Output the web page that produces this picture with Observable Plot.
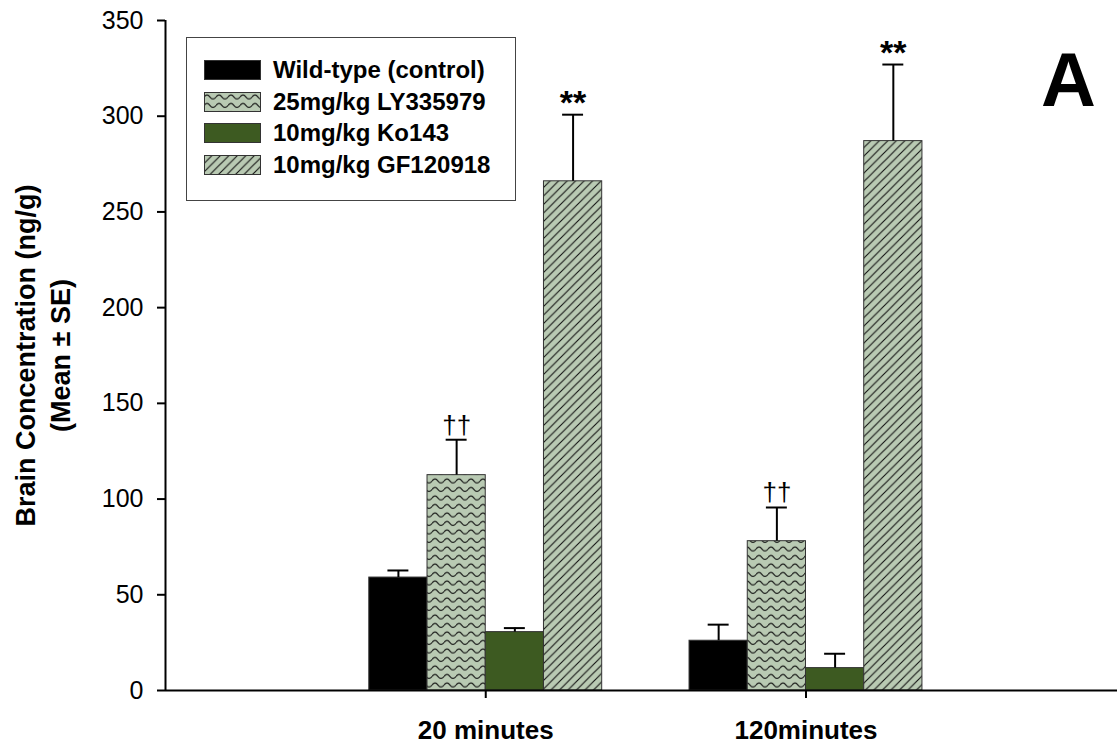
<!DOCTYPE html>
<html>
<head>
<meta charset="utf-8">
<script src="https://cdn.jsdelivr.net/npm/d3@7"></script>
<script src="https://cdn.jsdelivr.net/npm/@observablehq/plot@0.6"></script>
<style>
  html, body { margin: 0; padding: 0; background: white; }
  #wrap { position: relative; width: 1117px; height: 747px; font-family: "Liberation Sans", Arial, sans-serif; }
  #legend { position: absolute; left: 186px; top: 37px; width: 330px; height: 164px; border: 1px solid #444; box-sizing: border-box; background: white; }
  .lrow { position: absolute; left: 17px; height: 20px; display: flex; align-items: center; }
  .lrow span { margin-left: 12px; font-weight: bold; font-size: 24px; color: #000; white-space: nowrap; }
  #letter { position: absolute; left: 1041px; top: 36px; font-size: 76px; font-weight: bold; color: #000; line-height: normal; }
</style>
</head>
<body>
<svg width="0" height="0" style="position:absolute">
  <defs>
    <pattern id="wave" patternUnits="userSpaceOnUse" width="12" height="8.5">
      <rect width="12" height="8.5" fill="#b9cab3"></rect>
      <path d="M0,5 Q3,1 6,5 T12,5" fill="none" stroke="#111" stroke-width="1.1"></path>
    </pattern>
    <pattern id="hatch" patternUnits="userSpaceOnUse" width="8.5" height="8.5">
      <rect width="8.5" height="8.5" fill="#b9cab3"></rect>
      <path d="M-2,2 L2,-2 M0,8.5 L8.5,0 M6.5,10.5 L10.5,6.5" stroke="#111" stroke-width="1.1"></path>
    </pattern>
  </defs>
</svg>
<div id="wrap"></div>
<script>
// ---- data ----
const groups = ["20 minutes", "120minutes"];
const series = ["Wild-type (control)", "25mg/kg LY335979", "10mg/kg Ko143", "10mg/kg GF120918"];
const means20 = [59, 112.5, 30.5, 266];
const se20 = [3.7, 18.5, 2.1, 34.8];
const means120 = [26, 78, 11.7, 287];
const se120 = [8.4, 17.6, 7.5, 40];
const sig20 = ["", "††", "", "**"];
const sig120 = ["", "††", "", "**"];
const yTicks = [0, 50, 100, 150, 200, 250, 300, 350];
const fills = ["#000000", "url(#wave)", "#3d5a21", "url(#hatch)"];

// layout in bar-width units: each group holds 4 adjacent bars, groups 5.5 bar widths apart
const groupStep = 5.5;
const means = [means20, means120];
const ses = [se20, se120];
const sigs = [sig20, sig120];
const rows = [];
groups.forEach((g, gi) => series.forEach((s, si) => {
  const x1 = gi * groupStep + si;
  rows.push({ group: g, series: s, x1, x2: x1 + 1, xc: x1 + 0.5,
    mean: means[gi][si], upper: means[gi][si] + ses[gi][si], sig: sigs[gi][si] });
}));
const groupTicks = groups.map((g, gi) => gi * groupStep + series.length / 2);

const xDomain = [-3.5, 12.85];

const chart = Plot.plot({
  width: 1117, height: 747,
  marginLeft: 165, marginRight: 0, marginTop: 20, marginBottom: 57,
  style: { fontFamily: "Liberation Sans, Arial, sans-serif", background: "white", color: "#000" },
  x: { domain: xDomain, axis: null },
  y: { domain: [0, 350], axis: null },
  color: { domain: series, range: fills },
  marks: [
    Plot.rectY(rows, { x1: "x1", x2: "x2", y: "mean", fill: "series", stroke: "#333", strokeWidth: 1 }),
    Plot.ruleX(rows, { x: "xc", y1: "mean", y2: "upper", stroke: "#000", strokeWidth: 2 }),
    Plot.ruleY(rows, { y: "upper", x1: d => d.xc - 0.18, x2: d => d.xc + 0.18, stroke: "#000", strokeWidth: 2 }),
    Plot.text(rows.filter(d => d.sig === "††"), { x: "xc", y: "upper", text: "sig", lineAnchor: "bottom", dy: -6, fontSize: 26 }),
    Plot.text(rows.filter(d => d.sig === "**"), { x: "xc", y: "upper", text: "sig", lineAnchor: "bottom", dy: -1, fontSize: 34, fontWeight: "bold" }),
    Plot.ruleY([0], { stroke: "#000", strokeWidth: 2 }),
    Plot.ruleX([xDomain[0]], { y1: 0, y2: 350, stroke: "#000", strokeWidth: 2 }),
    Plot.axisY({ ticks: yTicks, tickSize: 8, tickPadding: 14, fontSize: 25, label: null, strokeWidth: 2 }),
    Plot.axisX({ ticks: groupTicks, tickFormat: (v, i) => groups[i], tickSize: 8, tickPadding: 22, fontSize: 26, fontWeight: "bold", label: null, strokeWidth: 2 }),
    Plot.text(["Brain Concentration (ng/g)\n(Mean ± SE)"], { frameAnchor: "left", dx: -124, rotate: -90, fontSize: 27, fontWeight: "bold", lineHeight: 1.3, textAnchor: "middle", lineAnchor: "middle" })
  ]
});

const wrap = document.getElementById("wrap");
wrap.appendChild(chart);

const legend = document.createElement("div");
legend.id = "legend";
series.forEach((s, i) => {
  const row = document.createElement("div");
  row.className = "lrow";
  row.style.top = (22 + i * 31.7) + "px";
  row.innerHTML = `<svg width="57" height="20"><rect x="0.5" y="0.5" width="56" height="19" fill="${fills[i]}" stroke="#333" stroke-width="1"></rect></svg><span>${s}</span>`;
  legend.appendChild(row);
});
wrap.appendChild(legend);

const letter = document.createElement("div");
letter.id = "letter";
letter.textContent = "A";
wrap.appendChild(letter);
</script>
</body>
</html>
